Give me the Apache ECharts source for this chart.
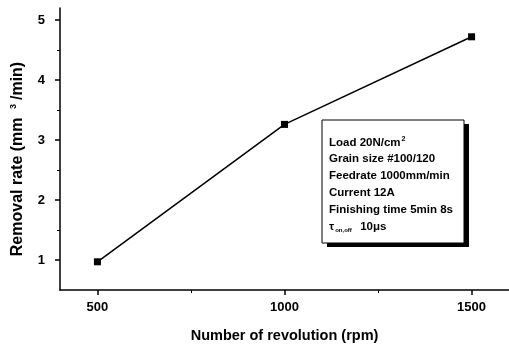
<!DOCTYPE html>
<html>
<head>
<meta charset="utf-8">
<script src="https://cdn.jsdelivr.net/npm/echarts@6/dist/echarts.min.js"></script>
<style>
html,body{margin:0;padding:0;background:#fff;}
#chart{width:509px;height:350px;}
</style>
</head>
<body>
<div id="chart"></div>
<script>
// Data
var rpm = [500, 1000, 1500];
var removalRate = [0.97, 3.26, 4.72];
var xMajorTicks = [500, 1000, 1500];
var xMinorTicks = [750, 1250];
var yMajorTicks = [1, 2, 3, 4, 5];
var yMinorTicks = [1.5, 2.5, 3.5, 4.5];
var noteLines = [
  '{t|Load 20N/cm}{sup|2}',
  '{t|Grain size #100/120}',
  '{t|Feedrate 1000mm/min}',
  '{t|Current 12A}',
  '{t|Finishing time 5min 8s}',
  '{t|τ}{sub|on,off}{t|  10μs}'
];

var FONT = 'Liberation Sans';
var chart = echarts.init(document.getElementById('chart'));

var noteGraphics = [
  {type:'rect', shape:{x:327, y:124, width:142, height:123}, style:{fill:'#000'}},
  {type:'rect', shape:{x:322, y:120, width:142, height:123}, style:{fill:'#fff', stroke:'#000', lineWidth:1}}
];
noteLines.forEach(function(s, i){
  noteGraphics.push({
    type:'text', left:329, top:136 + i*17,
    style:{
      text:s,
      rich:{
        t:{fontFamily:FONT, fontWeight:'bold', fontSize:11.5, fill:'#000'},
        sup:{fontFamily:FONT, fontWeight:'bold', fontSize:7, fill:'#000', verticalAlign:'top', padding:[0,0,6,1]},
        sub:{fontFamily:FONT, fontWeight:'bold', fontSize:6, fill:'#000', padding:[6,2,0,1]}
      }
    }
  });
});

var option = {
  animation:false,
  backgroundColor:'#fff',
  grid:{left:60, right:0, top:8, bottom:60, containLabel:false},
  xAxis:[{
    type:'value', min:400, max:1600,
    axisLine:{show:true, lineStyle:{color:'#000', width:1.5}},
    axisTick:{show:true, inside:false, length:5, customValues:xMajorTicks, lineStyle:{color:'#000', width:1.5}},
    axisLabel:{customValues:xMajorTicks, margin:11, color:'#000', fontFamily:FONT, fontWeight:'bold', fontSize:13,
      formatter:function(v){return String(v);}},
    splitLine:{show:false},
    name:'Number of revolution (rpm)', nameLocation:'middle', nameGap:38,
    nameTextStyle:{color:'#000', fontFamily:FONT, fontWeight:'bold', fontSize:14.5}
  },{
    type:'value', min:400, max:1600, position:'bottom',
    axisLine:{show:false},
    axisTick:{show:true, length:3, customValues:xMinorTicks, lineStyle:{color:'#000', width:1}},
    axisLabel:{show:false}, splitLine:{show:false}
  }],
  yAxis:[{
    type:'value', min:0.5, max:5.2,
    axisLine:{show:true, lineStyle:{color:'#000', width:1.5}},
    axisTick:{show:true, inside:false, length:5, customValues:yMajorTicks, lineStyle:{color:'#000', width:1.5}},
    axisLabel:{customValues:yMajorTicks, margin:15, color:'#000', fontFamily:FONT, fontWeight:'bold', fontSize:13,
      formatter:function(v){return String(v);}},
    splitLine:{show:false},
    name:'{a|Removal rate (mm }{s|3}{a|/min)}', nameLocation:'middle', nameGap:33, nameRotate:90,
    nameTextStyle:{
      color:'#000', fontFamily:FONT, fontWeight:'bold', fontSize:16,
      padding:[0,20,0,0],
      rich:{
        a:{color:'#000', fontFamily:FONT, fontWeight:'bold', fontSize:16},
        s:{color:'#000', fontFamily:FONT, fontWeight:'bold', fontSize:9, verticalAlign:'top', padding:[0,4,9,4]}
      }
    }
  },{
    type:'value', min:0.5, max:5.2, position:'left',
    axisLine:{show:false},
    axisTick:{show:true, length:3, customValues:yMinorTicks, lineStyle:{color:'#000', width:1}},
    axisLabel:{show:false}, splitLine:{show:false}
  }],
  series:[{
    type:'line',
    xAxisIndex:0, yAxisIndex:0,
    data:rpm.map(function(x,i){return [x, removalRate[i]];}),
    symbol:'rect', symbolSize:7,
    lineStyle:{color:'#000', width:1.5},
    itemStyle:{color:'#000'}
  }],
  graphic:noteGraphics
};
chart.setOption(option);
</script>
</body>
</html>
